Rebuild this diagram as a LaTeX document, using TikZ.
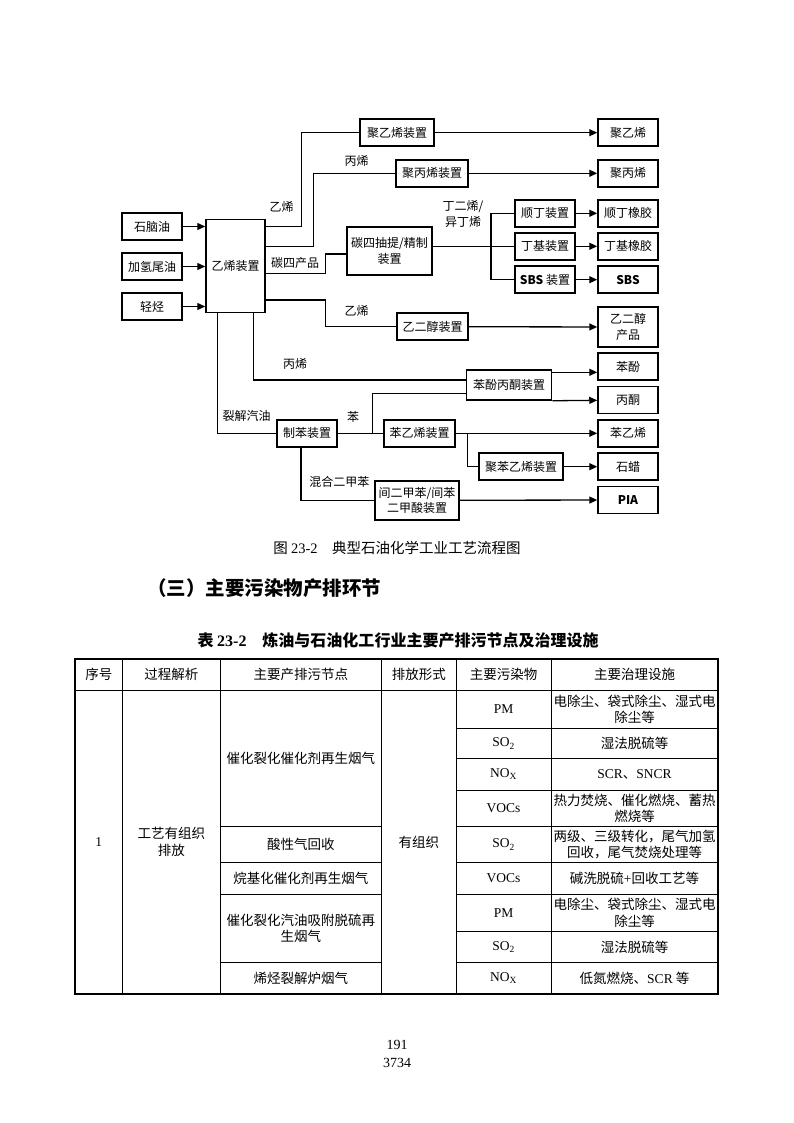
\documentclass[tikz,border=0pt]{standalone}
\usepackage{fontspec}
\setmainfont{Noto Sans CJK SC}
\newfontfamily\tnr{Liberation Serif}
\usetikzlibrary{arrows.meta,positioning}

\begin{document}
\begin{tikzpicture}[
    x=1pt,y=-1pt,
    >={Triangle[length=8pt,width=7pt]},
    plant/.style={rectangle,draw,line width=1.5pt,minimum width=60pt,minimum height=27pt,inner sep=1pt,align=center,font=\fontsize{12}{15.5}\selectfont},
    flow/.style={line width=1.3pt},
    arr/.style={line width=1.3pt,->},
    lbl/.style={inner sep=0pt,align=center,font=\fontsize{12}{16}\selectfont},
    tabtxt/.style={inner sep=0pt,align=center,font=\fontsize{13.5}{16.5}\selectfont},
    tabline/.style={line width=0.8pt},
    tabframe/.style={line width=1.4pt}]
  \useasboundingbox (0,0) rectangle (794,1123);
  % ---- feedstocks and cracker ----
  \node[plant] (naph) at (152,226.5) {石脑油};
  \node[plant] (hto) at (152,266.5) {加氢尾油};
  \node[plant] (lh) at (152,306.5) {轻烃};
  \node[plant,minimum width=59pt,minimum height=93pt] (eth) at (235.5,266) {乙烯装置};
  % ---- process units ----
  \node[plant,minimum width=74pt] (peu) at (397,132.7) {聚乙烯装置};
  \node[plant,minimum width=72pt] (ppu) at (432,173.3) {聚丙烯装置};
  \node[plant,minimum width=85pt,minimum height=48pt] (c4u) at (389.5,251) {碳四抽提/精制\\装置};
  \node[plant] (bru) at (545,213.3) {顺丁装置};
  \node[plant] (buu) at (545,246.3) {丁基装置};
  \node[plant] (sbsu) at (545,279.7) {\textbf{SBS} 装置};
  \node[plant,minimum width=71pt] (egu) at (432.5,326.7) {乙二醇装置};
  \node[plant,minimum width=85pt,minimum height=30pt] (pau) at (509,385) {苯酚丙酮装置};
  \node[plant] (bzu) at (307,433.3) {制苯装置};
  \node[plant,minimum width=71pt] (stu) at (419.5,433.3) {苯乙烯装置};
  \node[plant,minimum width=84pt] (psu) at (521,466.7) {聚苯乙烯装置};
  \node[plant,minimum width=84pt,minimum height=39pt] (ptau) at (417,500.3) {间二甲苯/间苯\\二甲酸装置};
  % ---- products ----
  \node[plant] (pe) at (628,132.7) {聚乙烯};
  \node[plant] (pp) at (628,173.3) {聚丙烯};
  \node[plant] (br) at (628,213.3) {顺丁橡胶};
  \node[plant] (bu) at (628,246.3) {丁基橡胶};
  \node[plant] (sbs) at (628,279.7) {\textbf{SBS}};
  \node[plant,minimum height=40pt] (eg) at (628,327) {乙二醇\\产品};
  \node[plant] (phe) at (628,366.7) {苯酚};
  \node[plant] (ace) at (628,400) {丙酮};
  \node[plant] (sty) at (628,433.3) {苯乙烯};
  \node[plant] (wax) at (628,466.7) {石蜡};
  \node[plant] (pia) at (628,500) {\textbf{PIA}};
  % junctions
  \coordinate (c4j) at (491,246.3);
  \coordinate (bzj) at (372.7,433.3);
  \coordinate (stj) at (467.7,433.3);
  % ---- connectors ----
  \draw[arr] (naph) -- (naph -| eth.west);
  \draw[arr] (hto) -- (hto -| eth.west);
  \draw[arr] (lh) -- (lh -| eth.west);
  \draw[flow] (eth.east |- naph) -- ++(36,0) |- (peu);
  \draw[flow] (eth.east |- buu) -- ++(47.7,0) |- (ppu);
  \draw[flow] ([yshift=-7.3pt]eth.east) -- ++(60,0) |- ([yshift=-3pt]c4u.west);
  \draw[flow] ([yshift=-34pt]eth.east) -- ++(60,0) |- (egu);
  \draw[flow] ([xshift=17.8pt]eth.south) |- ([yshift=5pt]pau.west);
  \draw[flow] ([xshift=-18.2pt]eth.south) |- (bzu);
  \draw[arr] (peu) -- (pe);
  \draw[arr] (ppu) -- (pp);
  \draw[flow] (c4u.east |- buu) -- (buu);
  \draw[flow] (bru) -| (c4j) |- (sbsu);
  \draw[arr] (bru) -- (br);
  \draw[arr] (buu) -- (bu);
  \draw[arr] (sbsu) -- (sbs);
  \draw[arr] (egu) -- (eg);
  \draw[arr] ([yshift=12.7pt]pau.east) -- ([yshift=12.7pt]pau.east -| phe.west);
  \draw[arr] (pau.south east) -- (ace);
  \draw[flow] (bzu) -- (stu);
  \draw[flow] (bzj) |- ([yshift=-8.3pt]pau.west);
  \draw[arr] (stu) -- (sty);
  \draw[flow] (stj) |- (psu);
  \draw[arr] (psu) -- (wax);
  \draw[flow] ([xshift=-6pt]bzu.south) |- (ptau);
  \draw[arr] (ptau) -- (pia);
  % ---- stream labels ----
  \node[lbl] (l1) at (281.7,206.7) {乙烯};
  \node[lbl] (l2) at (356.7,160.7) {丙烯};
  \node[lbl] (l3) at (295,262.7) {碳四产品};
  \node[lbl] (l4) at (356.7,310.7) {乙烯};
  \node[lbl] (l5) at (463,213.5) {丁二烯/\\异丁烯};
  \node[lbl] (l6) at (295,364) {丙烯};
  \node[lbl] (l7) at (246.7,415.7) {裂解汽油};
  \node[lbl] (l8) at (353,416.7) {苯};
  \node[lbl] (l9) at (339.3,482.3) {混合二甲苯};
  % ---- captions ----
  \node[font=\fontsize{14.5}{16}\selectfont] (cap) at (397,548) {图 {\tnr 23-2}\quad 典型石油化学工业工艺流程图};
  \node[anchor=west,inner sep=0pt,font=\fontsize{19.5}{22}\selectfont\bfseries] (sec) at (147,588) {（三）主要污染物产排环节};
  \node[font=\fontsize{16}{18}\selectfont\bfseries] (tit) at (398,640) {表 {\tnr\bfseries 23-2}\quad 炼油与石油化工行业主要产排污节点及治理设施};
  % ---- table rules ----
  \draw[tabframe] (75,659) rectangle (718,994);
  \draw[tabline] (75,690) -- (718,690);
  \draw[tabline] (122.5,659) -- (122.5,994);
  \draw[tabline] (220,659) -- (220,994);
  \draw[tabline] (381.5,659) -- (381.5,994);
  \draw[tabline] (456,659) -- (456,994);
  \draw[tabline] (551,659) -- (551,994);
  \draw[tabline] (456,728.5) -- (718,728.5);
  \draw[tabline] (456,758.5) -- (718,758.5);
  \draw[tabline] (456,790) -- (718,790);
  \draw[tabline] (220,826.5) -- (381.5,826.5);  \draw[tabline] (456,826.5) -- (718,826.5);
  \draw[tabline] (220,862.5) -- (381.5,862.5);  \draw[tabline] (456,862.5) -- (718,862.5);
  \draw[tabline] (220,894.5) -- (381.5,894.5);  \draw[tabline] (456,894.5) -- (718,894.5);
  \draw[tabline] (456,931.5) -- (718,931.5);
  \draw[tabline] (220,962.5) -- (381.5,962.5);  \draw[tabline] (456,962.5) -- (718,962.5);
  % ---- table header ----
  \node[tabtxt] (h1) at (98.75,674.5) {序号};
  \node[tabtxt] (h2) at (171.25,674.5) {过程解析};
  \node[tabtxt] (h3) at (300.75,674.5) {主要产排污节点};
  \node[tabtxt] (h4) at (418.75,674.5) {排放形式};
  \node[tabtxt] (h5) at (503.5,674.5) {主要污染物};
  \node[tabtxt] (h6) at (634.5,674.5) {主要治理设施};
  % ---- table body ----
  \node[tabtxt] (no1) at (98.75,842) {\tnr 1};
  \node[tabtxt] (proc) at (171.25,842) {工艺有组织\\排放};
  \node[tabtxt] (s1) at (300.75,758.25) {催化裂化催化剂再生烟气};
  \node[tabtxt] (s2) at (300.75,844.5) {酸性气回收};
  \node[tabtxt] (s3) at (300.75,878.5) {烷基化催化剂再生烟气};
  \node[tabtxt] (s4) at (300.75,928.5) {催化裂化汽油吸附脱硫再\\生烟气};
  \node[tabtxt] (s5) at (300.75,978.25) {烯烃裂解炉烟气};
  \node[tabtxt] (form) at (418.75,842) {有组织};
  \node[tabtxt] (p1) at (503.5,709.25) {\tnr PM};
  \node[tabtxt] (p2) at (503.5,743.5) {\tnr SO\textsubscript{2}};
  \node[tabtxt] (p3) at (503.5,774.25) {\tnr NO\textsubscript{X}};
  \node[tabtxt] (p4) at (503.5,808.25) {\tnr VOCs};
  \node[tabtxt] (p5) at (503.5,844.5) {\tnr SO\textsubscript{2}};
  \node[tabtxt] (p6) at (503.5,878.5) {\tnr VOCs};
  \node[tabtxt] (p7) at (503.5,913) {\tnr PM};
  \node[tabtxt] (p8) at (503.5,947) {\tnr SO\textsubscript{2}};
  \node[tabtxt] (p9) at (503.5,978.25) {\tnr NO\textsubscript{X}};
  \node[tabtxt] (m1) at (634.5,709.25) {电除尘、袋式除尘、湿式电\\除尘等};
  \node[tabtxt] (m2) at (634.5,743.5) {湿法脱硫等};
  \node[tabtxt] (m3) at (634.5,774.25) {{\tnr SCR}、{\tnr SNCR}};
  \node[tabtxt] (m4) at (634.5,808.25) {热力焚烧、催化燃烧、蓄热\\燃烧等};
  \node[tabtxt] (m5) at (634.5,844.5) {两级、三级转化，尾气加氢\\回收，尾气焚烧处理等};
  \node[tabtxt] (m6) at (634.5,878.5) {碱洗脱硫{\tnr +}回收工艺等};
  \node[tabtxt] (m7) at (634.5,913) {电除尘、袋式除尘、湿式电\\除尘等};
  \node[tabtxt] (m8) at (634.5,947) {湿法脱硫等};
  \node[tabtxt] (m9) at (634.5,978.25) {低氮燃烧、{\tnr SCR} 等};
  % ---- page numbers ----
  \node[font=\fontsize{14}{18}\selectfont\tnr] (pg1) at (397,1045) {191};
  \node[font=\fontsize{14}{18}\selectfont\tnr] (pg2) at (397,1063) {3734};
\end{tikzpicture}
\end{document}
